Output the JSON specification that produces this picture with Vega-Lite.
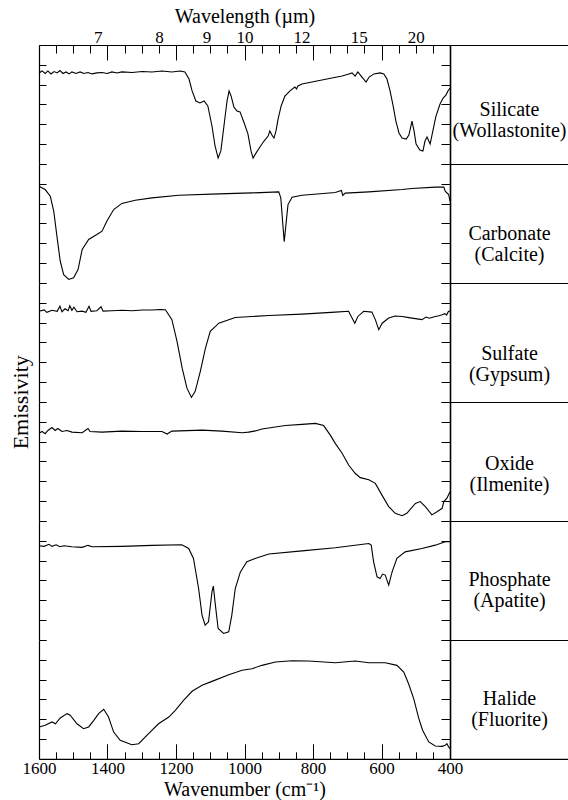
{
  "$schema": "https://vega.github.io/schema/vega-lite/v6.json",
  "background": "white",
  "padding": {"left": 8, "top": 6, "right": 0, "bottom": 0},
  "config": {
    "view": {"stroke": null},
    "font": "Liberation Serif",
    "axis": {
      "domainColor": "black", "tickColor": "black", "labelColor": "black", "titleColor": "black",
      "grid": false, "labelFont": "Liberation Serif", "titleFont": "Liberation Serif",
      "labelFontSize": 17, "titleFontSize": 20, "titleFontWeight": "normal",
      "domainWidth": 1.2, "tickWidth": 1
    }
  },
  "datasets": {
    "spectra": [
      {"m":"Silicate","wn":1600,"e":4.59},{"m":"Silicate","wn":1591,"e":4.69},{"m":"Silicate","wn":1582,"e":4.56},{"m":"Silicate","wn":1574,"e":4.69},{"m":"Silicate","wn":1565,"e":4.54},{"m":"Silicate","wn":1556,"e":4.66},{"m":"Silicate","wn":1547,"e":4.59},{"m":"Silicate","wn":1539,"e":4.71},{"m":"Silicate","wn":1530,"e":4.56},{"m":"Silicate","wn":1521,"e":4.64},{"m":"Silicate","wn":1512,"e":4.54},{"m":"Silicate","wn":1504,"e":4.64},{"m":"Silicate","wn":1492,"e":4.56},{"m":"Silicate","wn":1480,"e":4.64},{"m":"Silicate","wn":1469,"e":4.56},{"m":"Silicate","wn":1457,"e":4.61},{"m":"Silicate","wn":1445,"e":4.54},{"m":"Silicate","wn":1431,"e":4.59},{"m":"Silicate","wn":1416,"e":4.61},{"m":"Silicate","wn":1401,"e":4.56},{"m":"Silicate","wn":1387,"e":4.64},{"m":"Silicate","wn":1372,"e":4.59},{"m":"Silicate","wn":1358,"e":4.64},{"m":"Silicate","wn":1328,"e":4.61},{"m":"Silicate","wn":1299,"e":4.66},{"m":"Silicate","wn":1270,"e":4.64},{"m":"Silicate","wn":1241,"e":4.69},{"m":"Silicate","wn":1212,"e":4.64},{"m":"Silicate","wn":1188,"e":4.69},{"m":"Silicate","wn":1174,"e":4.64},{"m":"Silicate","wn":1162,"e":4.28},{"m":"Silicate","wn":1153,"e":3.68},{"m":"Silicate","wn":1142,"e":3.17},{"m":"Silicate","wn":1130,"e":3.07},{"m":"Silicate","wn":1118,"e":3.17},{"m":"Silicate","wn":1107,"e":2.92},{"m":"Silicate","wn":1095,"e":1.91},{"m":"Silicate","wn":1086,"e":0.9},{"m":"Silicate","wn":1077,"e":0.29},{"m":"Silicate","wn":1069,"e":0.65},{"m":"Silicate","wn":1060,"e":1.91},{"m":"Silicate","wn":1051,"e":3.17},{"m":"Silicate","wn":1045,"e":3.68},{"m":"Silicate","wn":1039,"e":3.42},{"m":"Silicate","wn":1031,"e":2.87},{"m":"Silicate","wn":1022,"e":2.67},{"m":"Silicate","wn":1013,"e":2.62},{"m":"Silicate","wn":1001,"e":2.06},{"m":"Silicate","wn":990,"e":1.51},{"m":"Silicate","wn":981,"e":0.65},{"m":"Silicate","wn":975,"e":0.29},{"m":"Silicate","wn":966,"e":0.55},{"m":"Silicate","wn":955,"e":0.85},{"m":"Silicate","wn":943,"e":1.15},{"m":"Silicate","wn":931,"e":1.4},{"m":"Silicate","wn":926,"e":1.66},{"m":"Silicate","wn":920,"e":1.45},{"m":"Silicate","wn":914,"e":1.3},{"m":"Silicate","wn":908,"e":1.66},{"m":"Silicate","wn":902,"e":2.26},{"m":"Silicate","wn":893,"e":2.92},{"m":"Silicate","wn":882,"e":3.42},{"m":"Silicate","wn":867,"e":3.68},{"m":"Silicate","wn":853,"e":3.88},{"m":"Silicate","wn":848,"e":3.78},{"m":"Silicate","wn":844,"e":3.93},{"m":"Silicate","wn":832,"e":4.03},{"m":"Silicate","wn":803,"e":4.13},{"m":"Silicate","wn":774,"e":4.23},{"m":"Silicate","wn":745,"e":4.33},{"m":"Silicate","wn":715,"e":4.43},{"m":"Silicate","wn":695,"e":4.54},{"m":"Silicate","wn":686,"e":4.59},{"m":"Silicate","wn":677,"e":4.43},{"m":"Silicate","wn":669,"e":4.64},{"m":"Silicate","wn":657,"e":4.38},{"m":"Silicate","wn":645,"e":4.13},{"m":"Silicate","wn":636,"e":4.38},{"m":"Silicate","wn":622,"e":4.54},{"m":"Silicate","wn":604,"e":4.59},{"m":"Silicate","wn":593,"e":4.54},{"m":"Silicate","wn":584,"e":4.28},{"m":"Silicate","wn":575,"e":3.68},{"m":"Silicate","wn":566,"e":2.92},{"m":"Silicate","wn":558,"e":2.16},{"m":"Silicate","wn":549,"e":1.56},{"m":"Silicate","wn":540,"e":1.3},{"m":"Silicate","wn":528,"e":1.25},{"m":"Silicate","wn":520,"e":1.45},{"m":"Silicate","wn":511,"e":2.16},{"m":"Silicate","wn":505,"e":1.66},{"m":"Silicate","wn":499,"e":1.0},{"m":"Silicate","wn":488,"e":0.7},{"m":"Silicate","wn":479,"e":0.65},{"m":"Silicate","wn":473,"e":1.15},{"m":"Silicate","wn":467,"e":1.35},{"m":"Silicate","wn":458,"e":1.0},{"m":"Silicate","wn":450,"e":1.66},{"m":"Silicate","wn":441,"e":2.41},{"m":"Silicate","wn":429,"e":3.02},{"m":"Silicate","wn":420,"e":3.32},{"m":"Silicate","wn":412,"e":3.47},{"m":"Silicate","wn":406,"e":3.68},{"m":"Silicate","wn":400,"e":3.83},

      {"m":"Carbonate","wn":1600,"e":4.88},{"m":"Carbonate","wn":1582,"e":4.71},{"m":"Carbonate","wn":1567,"e":4.37},{"m":"Carbonate","wn":1557,"e":3.62},{"m":"Carbonate","wn":1547,"e":2.27},{"m":"Carbonate","wn":1538,"e":1.09},{"m":"Carbonate","wn":1528,"e":0.41},{"m":"Carbonate","wn":1513,"e":0.17},{"m":"Carbonate","wn":1499,"e":0.25},{"m":"Carbonate","wn":1486,"e":0.67},{"m":"Carbonate","wn":1474,"e":1.68},{"m":"Carbonate","wn":1455,"e":2.19},{"m":"Carbonate","wn":1431,"e":2.44},{"m":"Carbonate","wn":1416,"e":2.61},{"m":"Carbonate","wn":1402,"e":3.11},{"m":"Carbonate","wn":1382,"e":3.7},{"m":"Carbonate","wn":1358,"e":4.01},{"m":"Carbonate","wn":1319,"e":4.17},{"m":"Carbonate","wn":1270,"e":4.29},{"m":"Carbonate","wn":1192,"e":4.42},{"m":"Carbonate","wn":1075,"e":4.49},{"m":"Carbonate","wn":978,"e":4.54},{"m":"Carbonate","wn":900,"e":4.59},{"m":"Carbonate","wn":894,"e":4.29},{"m":"Carbonate","wn":888,"e":2.94},{"m":"Carbonate","wn":884,"e":2.07},{"m":"Carbonate","wn":879,"e":2.94},{"m":"Carbonate","wn":873,"e":3.95},{"m":"Carbonate","wn":861,"e":4.32},{"m":"Carbonate","wn":832,"e":4.42},{"m":"Carbonate","wn":735,"e":4.56},{"m":"Carbonate","wn":717,"e":4.66},{"m":"Carbonate","wn":713,"e":4.41},{"m":"Carbonate","wn":706,"e":4.53},{"m":"Carbonate","wn":637,"e":4.59},{"m":"Carbonate","wn":540,"e":4.71},{"m":"Carbonate","wn":511,"e":4.76},{"m":"Carbonate","wn":443,"e":4.83},{"m":"Carbonate","wn":418,"e":4.84},{"m":"Carbonate","wn":414,"e":4.63},{"m":"Carbonate","wn":404,"e":4.46},{"m":"Carbonate","wn":400,"e":4.12},

      {"m":"Sulfate","wn":1600,"e":4.57},{"m":"Sulfate","wn":1585,"e":4.64},{"m":"Sulfate","wn":1577,"e":4.52},{"m":"Sulfate","wn":1562,"e":4.62},{"m":"Sulfate","wn":1547,"e":4.57},{"m":"Sulfate","wn":1539,"e":4.83},{"m":"Sulfate","wn":1533,"e":4.55},{"m":"Sulfate","wn":1524,"e":4.7},{"m":"Sulfate","wn":1515,"e":4.6},{"m":"Sulfate","wn":1510,"e":4.85},{"m":"Sulfate","wn":1504,"e":4.62},{"m":"Sulfate","wn":1498,"e":4.78},{"m":"Sulfate","wn":1489,"e":4.55},{"m":"Sulfate","wn":1474,"e":4.58},{"m":"Sulfate","wn":1463,"e":4.52},{"m":"Sulfate","wn":1454,"e":4.82},{"m":"Sulfate","wn":1448,"e":4.57},{"m":"Sulfate","wn":1431,"e":4.6},{"m":"Sulfate","wn":1419,"e":4.8},{"m":"Sulfate","wn":1413,"e":4.58},{"m":"Sulfate","wn":1387,"e":4.6},{"m":"Sulfate","wn":1358,"e":4.62},{"m":"Sulfate","wn":1328,"e":4.6},{"m":"Sulfate","wn":1299,"e":4.64},{"m":"Sulfate","wn":1270,"e":4.64},{"m":"Sulfate","wn":1247,"e":4.66},{"m":"Sulfate","wn":1231,"e":4.65},{"m":"Sulfate","wn":1212,"e":4.15},{"m":"Sulfate","wn":1197,"e":3.05},{"m":"Sulfate","wn":1182,"e":1.7},{"m":"Sulfate","wn":1168,"e":0.69},{"m":"Sulfate","wn":1155,"e":0.22},{"m":"Sulfate","wn":1144,"e":0.53},{"m":"Sulfate","wn":1129,"e":1.54},{"m":"Sulfate","wn":1114,"e":2.71},{"m":"Sulfate","wn":1100,"e":3.56},{"m":"Sulfate","wn":1075,"e":3.97},{"m":"Sulfate","wn":1027,"e":4.26},{"m":"Sulfate","wn":929,"e":4.36},{"m":"Sulfate","wn":832,"e":4.43},{"m":"Sulfate","wn":735,"e":4.53},{"m":"Sulfate","wn":696,"e":4.57},{"m":"Sulfate","wn":686,"e":4.23},{"m":"Sulfate","wn":678,"e":3.97},{"m":"Sulfate","wn":669,"e":4.31},{"m":"Sulfate","wn":652,"e":4.57},{"m":"Sulfate","wn":628,"e":4.53},{"m":"Sulfate","wn":618,"e":4.15},{"m":"Sulfate","wn":608,"e":3.64},{"m":"Sulfate","wn":598,"e":3.97},{"m":"Sulfate","wn":579,"e":4.23},{"m":"Sulfate","wn":560,"e":4.33},{"m":"Sulfate","wn":540,"e":4.31},{"m":"Sulfate","wn":520,"e":4.25},{"m":"Sulfate","wn":501,"e":4.2},{"m":"Sulfate","wn":482,"e":4.15},{"m":"Sulfate","wn":470,"e":4.28},{"m":"Sulfate","wn":460,"e":4.22},{"m":"Sulfate","wn":443,"e":4.31},{"m":"Sulfate","wn":432,"e":4.35},{"m":"Sulfate","wn":423,"e":4.4},{"m":"Sulfate","wn":415,"e":4.45},{"m":"Sulfate","wn":410,"e":4.38},{"m":"Sulfate","wn":405,"e":4.55},{"m":"Sulfate","wn":400,"e":4.6},

      {"m":"Oxide","wn":1600,"e":4.42},{"m":"Oxide","wn":1591,"e":4.51},{"m":"Oxide","wn":1582,"e":4.4},{"m":"Oxide","wn":1574,"e":4.56},{"m":"Oxide","wn":1562,"e":4.71},{"m":"Oxide","wn":1553,"e":4.56},{"m":"Oxide","wn":1545,"e":4.66},{"m":"Oxide","wn":1533,"e":4.51},{"m":"Oxide","wn":1518,"e":4.56},{"m":"Oxide","wn":1504,"e":4.48},{"m":"Oxide","wn":1474,"e":4.45},{"m":"Oxide","wn":1457,"e":4.66},{"m":"Oxide","wn":1451,"e":4.51},{"m":"Oxide","wn":1416,"e":4.48},{"m":"Oxide","wn":1358,"e":4.53},{"m":"Oxide","wn":1299,"e":4.51},{"m":"Oxide","wn":1241,"e":4.51},{"m":"Oxide","wn":1226,"e":4.38},{"m":"Oxide","wn":1212,"e":4.53},{"m":"Oxide","wn":1124,"e":4.58},{"m":"Oxide","wn":1066,"e":4.53},{"m":"Oxide","wn":1007,"e":4.45},{"m":"Oxide","wn":988,"e":4.48},{"m":"Oxide","wn":968,"e":4.54},{"m":"Oxide","wn":949,"e":4.64},{"m":"Oxide","wn":881,"e":4.81},{"m":"Oxide","wn":832,"e":4.87},{"m":"Oxide","wn":793,"e":4.92},{"m":"Oxide","wn":769,"e":4.81},{"m":"Oxide","wn":750,"e":4.34},{"m":"Oxide","wn":735,"e":3.91},{"m":"Oxide","wn":715,"e":3.41},{"m":"Oxide","wn":696,"e":2.82},{"m":"Oxide","wn":677,"e":2.4},{"m":"Oxide","wn":662,"e":2.18},{"m":"Oxide","wn":637,"e":2.07},{"m":"Oxide","wn":618,"e":1.89},{"m":"Oxide","wn":599,"e":1.31},{"m":"Oxide","wn":579,"e":0.72},{"m":"Oxide","wn":560,"e":0.38},{"m":"Oxide","wn":540,"e":0.26},{"m":"Oxide","wn":526,"e":0.38},{"m":"Oxide","wn":501,"e":0.88},{"m":"Oxide","wn":487,"e":0.97},{"m":"Oxide","wn":472,"e":0.72},{"m":"Oxide","wn":453,"e":0.3},{"m":"Oxide","wn":438,"e":0.46},{"m":"Oxide","wn":423,"e":0.63},{"m":"Oxide","wn":418,"e":0.97},{"m":"Oxide","wn":409,"e":1.14},{"m":"Oxide","wn":400,"e":1.47},

      {"m":"Phosphate","wn":1600,"e":4.75},{"m":"Phosphate","wn":1585,"e":4.72},{"m":"Phosphate","wn":1571,"e":4.82},{"m":"Phosphate","wn":1562,"e":4.72},{"m":"Phosphate","wn":1550,"e":4.8},{"m":"Phosphate","wn":1539,"e":4.7},{"m":"Phosphate","wn":1527,"e":4.75},{"m":"Phosphate","wn":1504,"e":4.7},{"m":"Phosphate","wn":1474,"e":4.67},{"m":"Phosphate","wn":1457,"e":4.77},{"m":"Phosphate","wn":1445,"e":4.7},{"m":"Phosphate","wn":1358,"e":4.72},{"m":"Phosphate","wn":1270,"e":4.77},{"m":"Phosphate","wn":1183,"e":4.8},{"m":"Phosphate","wn":1163,"e":4.61},{"m":"Phosphate","wn":1149,"e":4.11},{"m":"Phosphate","wn":1134,"e":2.59},{"m":"Phosphate","wn":1124,"e":1.25},{"m":"Phosphate","wn":1115,"e":0.74},{"m":"Phosphate","wn":1105,"e":0.91},{"m":"Phosphate","wn":1095,"e":2.42},{"m":"Phosphate","wn":1091,"e":2.71},{"m":"Phosphate","wn":1085,"e":1.75},{"m":"Phosphate","wn":1077,"e":0.57},{"m":"Phosphate","wn":1061,"e":0.32},{"m":"Phosphate","wn":1046,"e":0.4},{"m":"Phosphate","wn":1037,"e":1.25},{"m":"Phosphate","wn":1027,"e":2.59},{"m":"Phosphate","wn":1012,"e":3.43},{"m":"Phosphate","wn":993,"e":3.94},{"m":"Phosphate","wn":969,"e":4.11},{"m":"Phosphate","wn":929,"e":4.33},{"m":"Phosphate","wn":832,"e":4.49},{"m":"Phosphate","wn":735,"e":4.65},{"m":"Phosphate","wn":637,"e":4.86},{"m":"Phosphate","wn":630,"e":4.78},{"m":"Phosphate","wn":623,"e":3.94},{"m":"Phosphate","wn":613,"e":3.18},{"m":"Phosphate","wn":604,"e":3.1},{"m":"Phosphate","wn":597,"e":3.32},{"m":"Phosphate","wn":589,"e":3.27},{"m":"Phosphate","wn":579,"e":2.76},{"m":"Phosphate","wn":569,"e":3.43},{"m":"Phosphate","wn":555,"e":4.11},{"m":"Phosphate","wn":531,"e":4.44},{"m":"Phosphate","wn":482,"e":4.61},{"m":"Phosphate","wn":443,"e":4.78},{"m":"Phosphate","wn":414,"e":4.95},{"m":"Phosphate","wn":400,"e":4.95},

      {"m":"Halide","wn":1600,"e":1.61},{"m":"Halide","wn":1582,"e":1.69},{"m":"Halide","wn":1562,"e":1.86},{"m":"Halide","wn":1552,"e":1.77},{"m":"Halide","wn":1538,"e":2.06},{"m":"Halide","wn":1518,"e":2.28},{"m":"Halide","wn":1509,"e":2.2},{"m":"Halide","wn":1489,"e":1.77},{"m":"Halide","wn":1470,"e":1.52},{"m":"Halide","wn":1455,"e":1.61},{"m":"Halide","wn":1440,"e":1.94},{"m":"Halide","wn":1426,"e":2.28},{"m":"Halide","wn":1411,"e":2.5},{"m":"Halide","wn":1397,"e":2.11},{"m":"Halide","wn":1382,"e":1.35},{"m":"Halide","wn":1363,"e":0.93},{"m":"Halide","wn":1329,"e":0.71},{"m":"Halide","wn":1309,"e":0.76},{"m":"Halide","wn":1280,"e":1.27},{"m":"Halide","wn":1251,"e":1.77},{"m":"Halide","wn":1221,"e":2.11},{"m":"Halide","wn":1202,"e":2.45},{"m":"Halide","wn":1178,"e":2.95},{"m":"Halide","wn":1153,"e":3.41},{"m":"Halide","wn":1124,"e":3.71},{"m":"Halide","wn":1095,"e":3.91},{"m":"Halide","wn":1046,"e":4.25},{"m":"Halide","wn":1007,"e":4.47},{"m":"Halide","wn":978,"e":4.55},{"m":"Halide","wn":949,"e":4.72},{"m":"Halide","wn":910,"e":4.89},{"m":"Halide","wn":861,"e":4.95},{"m":"Halide","wn":813,"e":4.94},{"m":"Halide","wn":735,"e":4.85},{"m":"Halide","wn":677,"e":4.94},{"m":"Halide","wn":637,"e":4.85},{"m":"Halide","wn":589,"e":4.85},{"m":"Halide","wn":555,"e":4.72},{"m":"Halide","wn":535,"e":4.38},{"m":"Halide","wn":521,"e":3.79},{"m":"Halide","wn":506,"e":3.04},{"m":"Halide","wn":491,"e":2.03},{"m":"Halide","wn":480,"e":1.44},{"m":"Halide","wn":462,"e":0.85},{"m":"Halide","wn":443,"e":0.65},{"m":"Halide","wn":423,"e":0.63},{"m":"Halide","wn":414,"e":0.68},{"m":"Halide","wn":409,"e":0.76},{"m":"Halide","wn":404,"e":0.6},{"m":"Halide","wn":400,"e":0.51}
    ]
  },
  "columns": 2,
  "spacing": 0,
  "bounds": "flush",
  "concat": [
    {
      "width": 411, "height": 118.8,
      "data": {"name": "spectra"},
      "transform": [{"filter": "datum.m === 'Silicate'"}],
      "layer": [
        {"mark": {"type": "line", "color": "black", "strokeWidth": 1.1},
         "encoding": {
           "x": {"field": "wn", "type": "quantitative", "scale": {"domain": [400, 1600], "reverse": true, "nice": false, "zero": false},
                 "axis": {"orient": "top", "values": [1428.5714, 1250, 1111.1111, 1000, 833.3333, 666.6667, 500], "labelExpr": "format(10000/datum.value, 'd')", "ticks": false, "domain": false, "labelPadding": -1, "labelFlush": false, "labelOverlap": false, "title": "Wavelength (µm)", "titlePadding": 2}},
           "y": {"field": "e", "type": "quantitative", "scale": {"domain": [0, 6], "nice": false, "zero": false},
                 "axis": {"orient": "left", "labels": false, "tickSize": -7, "values": [0,1,2,3,4,5,6], "title": null}}
         }},
        {"mark": {"type": "line", "opacity": 0},
         "encoding": {
           "x": {"field": "wn", "type": "quantitative",
                 "axis": {"orient": "top", "values": [400,450,500,550,600,650,700,750,800,850,900,950,1000,1050,1100,1150,1200,1250,1300,1350,1400,1450,1500,1550,1600], "labels": false, "tickSize": {"condition": {"test": "datum.value % 200 === 0", "value": -15}, "value": -8}, "domain": true, "title": null}},
           "y": {"field": "e", "type": "quantitative",
                 "axis": {"orient": "right", "labels": false, "tickSize": -9, "values": [0,1,2,3,4,5,6], "domainWidth": 1.6, "title": null}}
         }}
      ],
      "resolve": {"axis": {"x": "independent", "y": "independent"}}
    },
    {
      "width": 119, "height": 118.8,
      "data": {"values": [{"label": "Silicate\n(Wollastonite)"}]},
      "mark": {"type": "text", "lineBreak": "\n", "fontSize": 20, "lineHeight": 21, "font": "Liberation Serif", "color": "black", "baseline": "middle"},
      "encoding": {
        "text": {"field": "label", "type": "nominal"},
        "x": {"datum": 0.5, "type": "quantitative", "scale": {"domain": [0, 1]}, "axis": {"orient": "top", "domain": true, "ticks": false, "labels": false, "title": null}},
        "y": {"datum": 0.45, "type": "quantitative", "scale": {"domain": [0, 1]}, "axis": null}
      }
    },
    {
      "width": 411, "height": 118.8,
      "data": {"name": "spectra"},
      "transform": [{"filter": "datum.m === 'Carbonate'"}],
      "layer": [
        {"mark": {"type": "line", "color": "black", "strokeWidth": 1.1},
         "encoding": {
           "x": {"field": "wn", "type": "quantitative", "scale": {"domain": [400, 1600], "reverse": true, "nice": false, "zero": false}, "axis": null},
           "y": {"field": "e", "type": "quantitative", "scale": {"domain": [0, 6], "nice": false, "zero": false},
                 "axis": {"orient": "left", "labels": false, "tickSize": -7, "values": [0,1,2,3,4,5,6], "title": null}}
         }},
        {"mark": {"type": "line", "opacity": 0},
         "encoding": {
           "x": {"field": "wn", "type": "quantitative", "axis": null},
           "y": {"field": "e", "type": "quantitative",
                 "axis": {"orient": "right", "labels": false, "tickSize": -9, "values": [0,1,2,3,4,5,6], "domainWidth": 1.6, "title": null}}
         }}
      ],
      "resolve": {"axis": {"x": "independent", "y": "independent"}}
    },
    {
      "width": 119, "height": 118.8,
      "data": {"values": [{"label": "Carbonate\n(Calcite)"}]},
      "mark": {"type": "text", "lineBreak": "\n", "fontSize": 20, "lineHeight": 21, "font": "Liberation Serif", "color": "black", "baseline": "middle"},
      "encoding": {
        "text": {"field": "label", "type": "nominal"},
        "x": {"datum": 0.5, "type": "quantitative", "scale": {"domain": [0, 1]}, "axis": {"orient": "top", "domain": true, "ticks": false, "labels": false, "title": null}},
        "y": {"datum": 0.41, "type": "quantitative", "scale": {"domain": [0, 1]}, "axis": null}
      }
    },
    {
      "width": 411, "height": 118.8,
      "data": {"name": "spectra"},
      "transform": [{"filter": "datum.m === 'Sulfate'"}],
      "layer": [
        {"mark": {"type": "line", "color": "black", "strokeWidth": 1.1},
         "encoding": {
           "x": {"field": "wn", "type": "quantitative", "scale": {"domain": [400, 1600], "reverse": true, "nice": false, "zero": false}, "axis": null},
           "y": {"field": "e", "type": "quantitative", "scale": {"domain": [0, 6], "nice": false, "zero": false},
                 "axis": {"orient": "left", "labels": false, "tickSize": -7, "values": [0,1,2,3,4,5,6], "title": "Emissivity", "titleFontSize": 22, "titleX": -12, "titleY": 118.8, "titleAngle": -90, "titleAlign": "center", "titleBaseline": "alphabetic"}}
         }},
        {"mark": {"type": "line", "opacity": 0},
         "encoding": {
           "x": {"field": "wn", "type": "quantitative", "axis": null},
           "y": {"field": "e", "type": "quantitative",
                 "axis": {"orient": "right", "labels": false, "tickSize": -9, "values": [0,1,2,3,4,5,6], "domainWidth": 1.6, "title": null}}
         }}
      ],
      "resolve": {"axis": {"x": "independent", "y": "independent"}}
    },
    {
      "width": 119, "height": 118.8,
      "data": {"values": [{"label": "Sulfate\n(Gypsum)"}]},
      "mark": {"type": "text", "lineBreak": "\n", "fontSize": 20, "lineHeight": 21, "font": "Liberation Serif", "color": "black", "baseline": "middle"},
      "encoding": {
        "text": {"field": "label", "type": "nominal"},
        "x": {"datum": 0.5, "type": "quantitative", "scale": {"domain": [0, 1]}, "axis": {"orient": "top", "domain": true, "ticks": false, "labels": false, "title": null}},
        "y": {"datum": 0.4, "type": "quantitative", "scale": {"domain": [0, 1]}, "axis": null}
      }
    },
    {
      "width": 411, "height": 118.8,
      "data": {"name": "spectra"},
      "transform": [{"filter": "datum.m === 'Oxide'"}],
      "layer": [
        {"mark": {"type": "line", "color": "black", "strokeWidth": 1.1},
         "encoding": {
           "x": {"field": "wn", "type": "quantitative", "scale": {"domain": [400, 1600], "reverse": true, "nice": false, "zero": false}, "axis": null},
           "y": {"field": "e", "type": "quantitative", "scale": {"domain": [0, 6], "nice": false, "zero": false},
                 "axis": {"orient": "left", "labels": false, "tickSize": -7, "values": [0,1,2,3,4,5,6], "title": null}}
         }},
        {"mark": {"type": "line", "opacity": 0},
         "encoding": {
           "x": {"field": "wn", "type": "quantitative", "axis": null},
           "y": {"field": "e", "type": "quantitative",
                 "axis": {"orient": "right", "labels": false, "tickSize": -9, "values": [0,1,2,3,4,5,6], "domainWidth": 1.6, "title": null}}
         }}
      ],
      "resolve": {"axis": {"x": "independent", "y": "independent"}}
    },
    {
      "width": 119, "height": 118.8,
      "data": {"values": [{"label": "Oxide\n(Ilmenite)"}]},
      "mark": {"type": "text", "lineBreak": "\n", "fontSize": 20, "lineHeight": 21, "font": "Liberation Serif", "color": "black", "baseline": "middle"},
      "encoding": {
        "text": {"field": "label", "type": "nominal"},
        "x": {"datum": 0.5, "type": "quantitative", "scale": {"domain": [0, 1]}, "axis": {"orient": "top", "domain": true, "ticks": false, "labels": false, "title": null}},
        "y": {"datum": 0.48, "type": "quantitative", "scale": {"domain": [0, 1]}, "axis": null}
      }
    },
    {
      "width": 411, "height": 118.8,
      "data": {"name": "spectra"},
      "transform": [{"filter": "datum.m === 'Phosphate'"}],
      "layer": [
        {"mark": {"type": "line", "color": "black", "strokeWidth": 1.1},
         "encoding": {
           "x": {"field": "wn", "type": "quantitative", "scale": {"domain": [400, 1600], "reverse": true, "nice": false, "zero": false}, "axis": null},
           "y": {"field": "e", "type": "quantitative", "scale": {"domain": [0, 6], "nice": false, "zero": false},
                 "axis": {"orient": "left", "labels": false, "tickSize": -7, "values": [0,1,2,3,4,5,6], "title": null}}
         }},
        {"mark": {"type": "line", "opacity": 0},
         "encoding": {
           "x": {"field": "wn", "type": "quantitative", "axis": null},
           "y": {"field": "e", "type": "quantitative",
                 "axis": {"orient": "right", "labels": false, "tickSize": -9, "values": [0,1,2,3,4,5,6], "domainWidth": 1.6, "title": null}}
         }}
      ],
      "resolve": {"axis": {"x": "independent", "y": "independent"}}
    },
    {
      "width": 119, "height": 118.8,
      "data": {"values": [{"label": "Phosphate\n(Apatite)"}]},
      "mark": {"type": "text", "lineBreak": "\n", "fontSize": 20, "lineHeight": 21, "font": "Liberation Serif", "color": "black", "baseline": "middle"},
      "encoding": {
        "text": {"field": "label", "type": "nominal"},
        "x": {"datum": 0.5, "type": "quantitative", "scale": {"domain": [0, 1]}, "axis": {"orient": "top", "domain": true, "ticks": false, "labels": false, "title": null}},
        "y": {"datum": 0.5, "type": "quantitative", "scale": {"domain": [0, 1]}, "axis": null}
      }
    },
    {
      "width": 411, "height": 118.8,
      "data": {"name": "spectra"},
      "transform": [{"filter": "datum.m === 'Halide'"}],
      "layer": [
        {"mark": {"type": "line", "color": "black", "strokeWidth": 1.1},
         "encoding": {
           "x": {"field": "wn", "type": "quantitative", "scale": {"domain": [400, 1600], "reverse": true, "nice": false, "zero": false},
                 "axis": {"orient": "bottom", "values": [1600, 1400, 1200, 1000, 800, 600, 400], "format": "d", "ticks": false, "domain": true, "labelPadding": 2, "labelFlush": false, "labelOverlap": false, "title": "Wavenumber (cm⁻¹)", "titlePadding": 2.5}},
           "y": {"field": "e", "type": "quantitative", "scale": {"domain": [0, 6], "nice": false, "zero": false},
                 "axis": {"orient": "left", "labels": false, "tickSize": -7, "values": [0,1,2,3,4,5,6], "title": null}}
         }},
        {"mark": {"type": "line", "opacity": 0},
         "encoding": {
           "x": {"field": "wn", "type": "quantitative",
                 "axis": {"orient": "bottom", "values": [400,450,500,550,600,650,700,750,800,850,900,950,1000,1050,1100,1150,1200,1250,1300,1350,1400,1450,1500,1550,1600], "labels": false, "tickSize": {"condition": {"test": "datum.value % 200 === 0", "value": -15}, "value": -7}, "domain": false, "title": null}},
           "y": {"field": "e", "type": "quantitative",
                 "axis": {"orient": "right", "labels": false, "tickSize": -9, "values": [0,1,2,3,4,5,6], "domainWidth": 1.6, "title": null}}
         }}
      ],
      "resolve": {"axis": {"x": "independent", "y": "independent"}}
    },
    {
      "width": 119, "height": 118.8,
      "data": {"values": [{"label": "Halide\n(Fluorite)"}]},
      "layer": [
        {"mark": {"type": "text", "lineBreak": "\n", "fontSize": 20, "lineHeight": 21, "font": "Liberation Serif", "color": "black", "baseline": "middle"},
         "encoding": {
           "text": {"field": "label", "type": "nominal"},
           "x": {"datum": 0.5, "type": "quantitative", "scale": {"domain": [0, 1]}, "axis": {"orient": "top", "domain": true, "ticks": false, "labels": false, "title": null}},
           "y": {"datum": 0.5, "type": "quantitative", "scale": {"domain": [0, 1]}, "axis": null}
         }},
        {"mark": {"type": "text", "opacity": 0},
         "encoding": {
           "text": {"field": "label", "type": "nominal"},
           "x": {"datum": 0.5, "type": "quantitative", "axis": {"orient": "bottom", "domain": true, "ticks": false, "labels": false, "title": null}},
           "y": {"datum": 0.5, "type": "quantitative", "axis": null}
         }}
      ],
      "resolve": {"axis": {"x": "independent"}}
    }
  ]
}
